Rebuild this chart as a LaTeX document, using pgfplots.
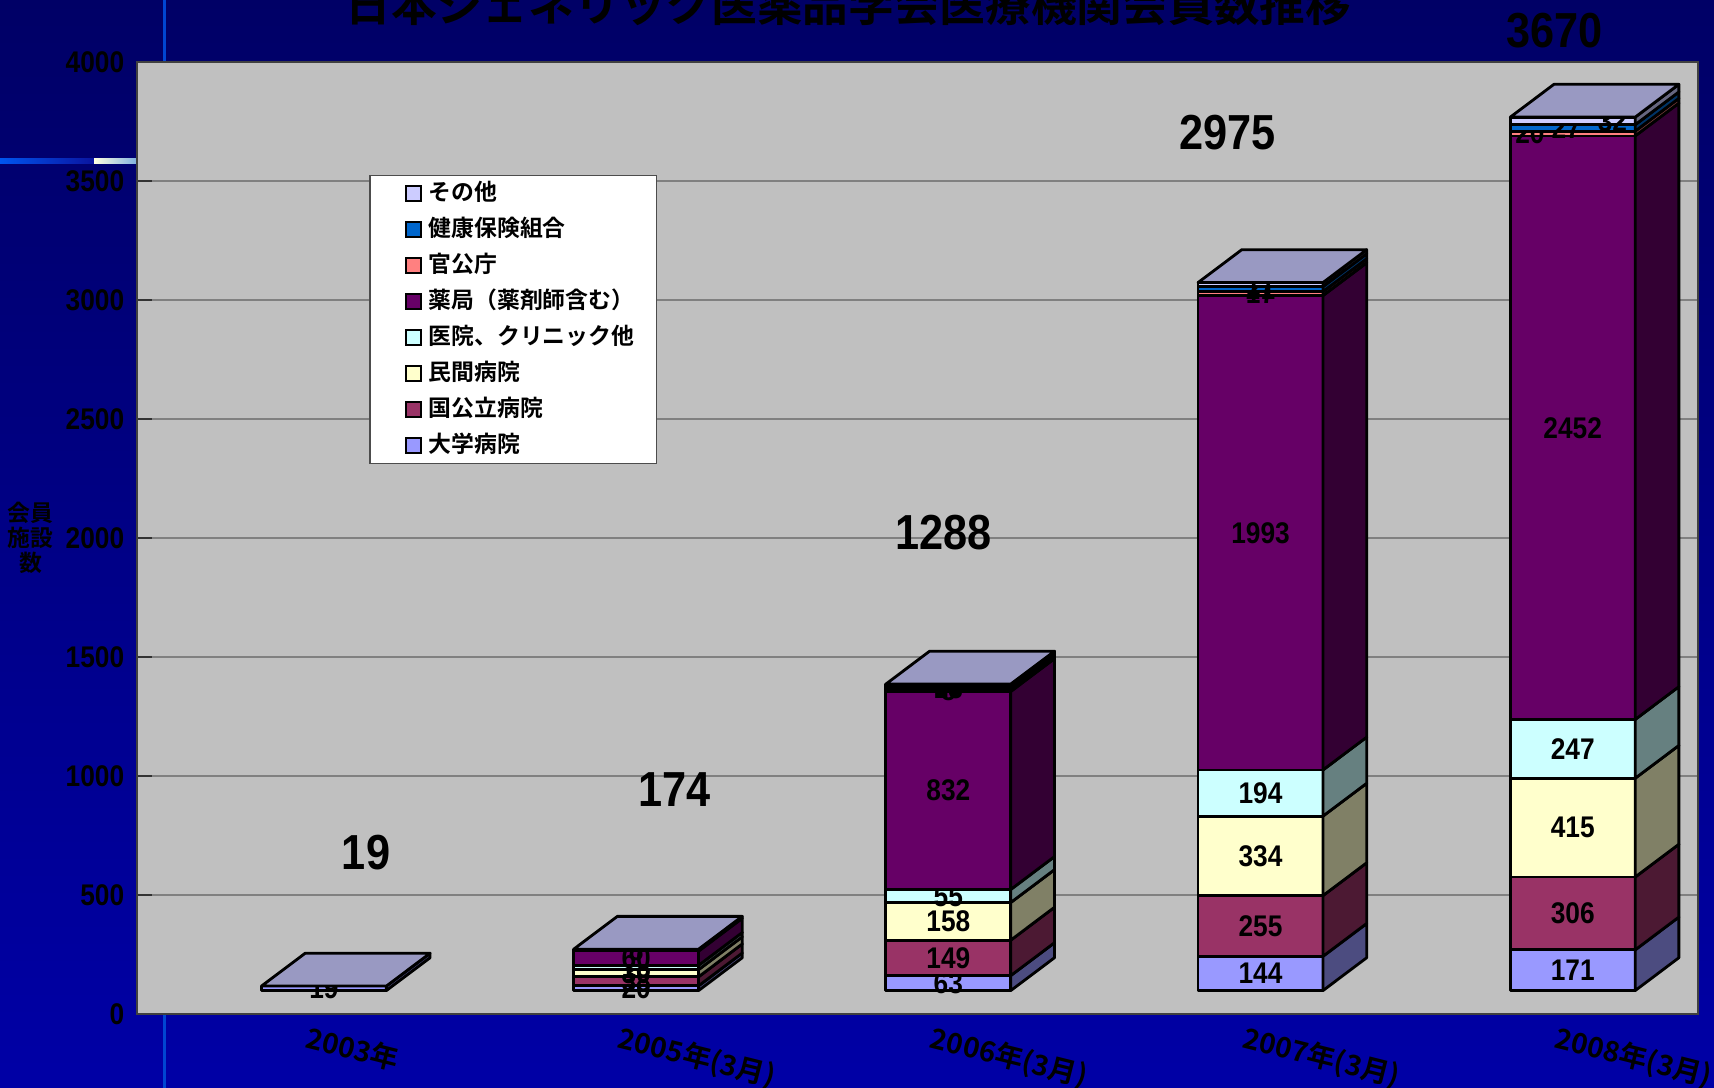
\documentclass[border=0pt]{standalone}
\usepackage{pgfplots}
\pgfplotsset{compat=1.18}
\usepackage{pgfplotstable}
\usepackage{fontspec}
\setmainfont{Noto Sans CJK JP}[BoldFont={Noto Sans CJK JP Bold}]
\newfontfamily\numfont{Liberation Sans}[FakeStretch=0.88]

\definecolor{cA}{HTML}{9999FF}
\definecolor{cB}{HTML}{993366}
\definecolor{cC}{HTML}{FFFFCC}
\definecolor{cD}{HTML}{CCFFFF}
\definecolor{cE}{HTML}{660066}
\definecolor{cF}{HTML}{FF8080}
\definecolor{cG}{HTML}{0066CC}
\definecolor{cH}{HTML}{CCCCFF}
\definecolor{topc}{HTML}{9999C2}
\definecolor{plotbg}{HTML}{C0C0C0}
\definecolor{bgtop}{HTML}{000066}
\definecolor{bgbot}{HTML}{0000A6}

% a: 大学病院, b: 国公立病院, c: 民間病院, d: 医院、クリニック他,
% e: 薬局, f: 官公庁, g: 健康保険組合, h: その他
\pgfplotstableread{
x  a    b    c    d    e     f   g   h
0  19   0    0    0    0     0   0   0
1  20   38   30   18   60    0   0   8
2  63   149  158  55   832   8   13  10
3  144  255  334  194  1993  17  21  17
4  171  306  415  247  2452  20  27  32
}\datatable

% horizontal offset of each value label (categories)
\pgfplotstableread{
x  a  b  c  d  e  f       g       h
0  0  0  0  0  0  0       0       0
1  0  0  0  0  0  0       0       0
2  0  0  0  0  0  0       0       0
3  0  0  0  0  0  0       0       0
4  0  0  0  0  0  -0.137  -0.021  0.127
}\lshift

\tikzset{seglabel/.style={font=\numfont\bfseries\fontsize{8.5}{10}\selectfont, inner sep=0pt, text=black}}

\newcommand{\seg}[3]{%
  \pgfplotstablegetelem{#1}{#2}\of\lshift
  \xdef\segshift{\pgfplotsretval}%
  \pgfplotstablegetelem{#1}{#2}\of\datatable
  \xdef\segval{\pgfplotsretval}%
  \pgfmathsetmacro\ya{\cum}%
  \pgfmathsetmacro\yb{\cum+\segval}%
  \xdef\cum{\yb}%
  \ifdim\segval pt>0pt
    \pgfmathsetmacro\xa{#1-0.1}%
    \pgfmathsetmacro\xb{#1+0.3}%
    \pgfmathsetmacro\xc{#1+0.44}%
    \pgfmathsetmacro\yc{\ya+138}%
    \pgfmathsetmacro\yd{\yb+138}%
    \pgfmathsetmacro\xm{#1+0.1+\segshift}%
    \pgfmathsetmacro\ym{(\ya+\yb)/2}%
    \addplot[forget plot, fill=#3, draw=black, line width=0.8pt, line join=round]
      coordinates {(\xa,\ya) (\xb,\ya) (\xb,\yb) (\xa,\yb)} -- cycle;
    \addplot[forget plot, fill=#3!50!black, draw=black, line width=0.8pt, line join=round]
      coordinates {(\xb,\ya) (\xc,\yc) (\xc,\yd) (\xb,\yb)} -- cycle;
    \edef\tmp{\noexpand\node[seglabel] at (axis cs:\xm,\ym) {\segval};}\tmp
  \fi
}

\newcommand{\threedbar}[1]{%
  \xdef\cum{100}%
  \seg{#1}{a}{cA}\seg{#1}{b}{cB}\seg{#1}{c}{cC}\seg{#1}{d}{cD}%
  \seg{#1}{e}{cE}\seg{#1}{f}{cF}\seg{#1}{g}{cG}\seg{#1}{h}{cH}%
  \pgfmathsetmacro\xa{#1-0.1}%
  \pgfmathsetmacro\xb{#1+0.3}%
  \pgfmathsetmacro\xc{#1+0.44}%
  \pgfmathsetmacro\xd{#1+0.04}%
  \pgfmathsetmacro\yt{\cum+138}%
  \addplot[forget plot, fill=topc, draw=black, line width=0.8pt, line join=round]
    coordinates {(\xa,\cum) (\xb,\cum) (\xc,\yt) (\xd,\yt)} -- cycle;
}

\begin{document}
\begin{tikzpicture}
\useasboundingbox (0,0) rectangle (17.14,10.88);
\fill[top color=bgtop, bottom color=bgbot] (0,0) rectangle (17.14,10.88);
\fill[color={rgb,255:red,0;green,70;blue,210}] (1.625,0) rectangle (1.655,10.88);
\shade[left color={rgb,255:red,0;green,85;blue,238}, right color={rgb,255:red,10;green,20;blue,160}] (0,9.24) rectangle (0.94,9.29);
\shade[left color={rgb,255:red,255;green,255;blue,224}, right color={rgb,255:red,128;green,176;blue,224}] (0.94,9.24) rectangle (1.366,9.29);

\node[font=\bfseries\fontsize{13}{15}\selectfont, anchor=base, text=black] at (8.485,10.66) {日本ジェネリック医薬品学会医療機関会員数推移};
\node[font=\bfseries\fontsize{6.5}{7.2}\selectfont, align=center, text=black] at (0.306,5.50) {会員\\施設\\数};

\begin{axis}[
  at={(1.366cm,0.736cm)}, anchor=south west,
  scale only axis, width=15.61cm, height=9.52cm,
  xmin=-0.5, xmax=4.5, ymin=0, ymax=4000,
  clip=false, no markers,
  axis background/.style={fill=plotbg},
  axis line style={draw=black!75, line width=0.6pt},
  ytick={0,500,...,4000},
  ymajorgrids, grid style={draw=black!50, line width=0.6pt},
  tick align=inside, major tick length=0.15cm,
  tick style={draw=black!80, line width=0.6pt},
  xtick={0,1,2,3,4},
  xticklabels={2003年,2005年(3月),2006年(3月),2007年(3月),2008年(3月)},
  x tick style={draw=none},
  extra x ticks={0.5,1.5,2.5,3.5},
  extra x tick labels={},
  extra x tick style={grid=none, major tick length=0.16cm, tick style={draw=black!80, line width=0.6pt}},
  xtick pos=bottom, ytick pos=left,
  xticklabel style={rotate=-14, anchor=north west, font=\bfseries\fontsize{8}{9}\selectfont, text=black, xshift=2pt, yshift=2pt},
  yticklabel style={font=\numfont\bfseries\fontsize{8.5}{10}\selectfont, text=black},
  /pgf/number format/assume math mode=true,
  /pgf/number format/1000 sep={},
  legend image code/.code={\path (0cm,0cm); \draw[#1, draw=black, line width=0.6pt] (0.2cm,-0.075cm) rectangle (0.35cm,0.075cm);},
  legend style={at={(0.149,0.882)}, anchor=north west, draw=black!70, fill=white,
    inner xsep=0.15cm, inner ysep=0pt, row sep=0pt,
    font=\bfseries\fontsize{6.5}{7}\selectfont,
    nodes={inner ysep=0pt, minimum height=0.36cm}},
  legend cell align=left,
]
\addlegendimage{fill=cH}\addlegendentry{その他}
\addlegendimage{fill=cG}\addlegendentry{健康保険組合}
\addlegendimage{fill=cF}\addlegendentry{官公庁}
\addlegendimage{fill=cE}\addlegendentry{薬局（薬剤師含む）\hspace{0.3cm}}
\addlegendimage{fill=cD}\addlegendentry{医院、クリニック他}
\addlegendimage{fill=cC}\addlegendentry{民間病院}
\addlegendimage{fill=cB}\addlegendentry{国公立病院}
\addlegendimage{fill=cA}\addlegendentry{大学病院}

\threedbar{0}
\threedbar{1}
\threedbar{2}
\threedbar{3}
\threedbar{4}

\tikzset{totlabel/.style={font=\numfont\bfseries\fontsize{14}{16}\selectfont, text=black}}
\node[totlabel] at (axis cs:0.235,680) {19};
\node[totlabel] at (axis cs:1.223,946) {174};
\node[totlabel] at (axis cs:2.084,2026) {1288};
\node[totlabel] at (axis cs:2.995,3706) {2975};
\node[totlabel] at (axis cs:4.041,4134) {3670};
\end{axis}
\end{tikzpicture}
\end{document}
